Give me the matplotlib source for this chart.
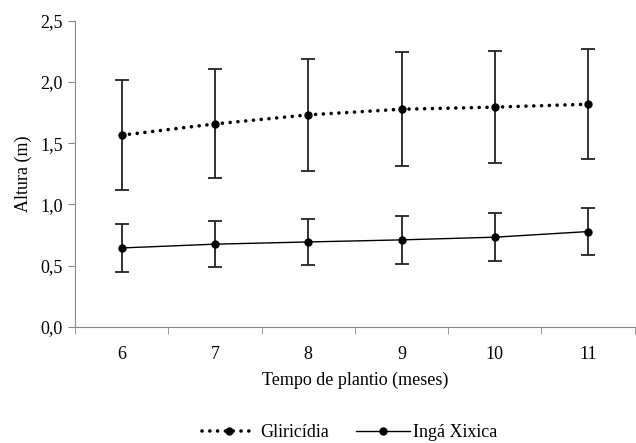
import matplotlib
matplotlib.use('Agg')
import matplotlib.pyplot as plt
from matplotlib.lines import Line2D

plt.rcParams['font.family'] = 'Liberation Serif'
plt.rcParams['font.size'] = 13

# data
meses = [6, 7, 8, 9, 10, 11]
gliricidia = [1.566, 1.658, 1.732, 1.778, 1.795, 1.819]
gliricidia_err = [0.45, 0.445, 0.455, 0.465, 0.457, 0.447]
inga = [0.645, 0.676, 0.694, 0.711, 0.733, 0.779]
inga_err = [0.195, 0.19, 0.19, 0.195, 0.195, 0.193]
yticks = [0.0, 0.5, 1.0, 1.5, 2.0, 2.5]

dotted = (0, (0.01, 2.15))

fig = plt.figure(figsize=(6.36, 4.43), dpi=100)
ax = fig.add_axes([0.118, 0.262, 0.88, 0.691])

ax.errorbar(meses, gliricidia, yerr=gliricidia_err, color='black', marker='o',
            markersize=5, linestyle=dotted, linewidth=2.6,
            dash_capstyle='round', ecolor='#222222', elinewidth=1.3,
            capsize=5, capthick=1.3)
ax.errorbar(meses, inga, yerr=inga_err, color='black', marker='o',
            markersize=5, linestyle='-', linewidth=1.0,
            ecolor='#222222', elinewidth=1.3, capsize=5, capthick=1.3)

ax.set_xlim(5.5, 11.5)
ax.set_ylim(0, 2.5)
ax.set_yticks(yticks)
ax.set_yticklabels([f'{v:.1f}'.replace('.', ',') for v in yticks])
ax.set_xticks(meses)
ax.set_xticks([m + 0.5 for m in [5] + meses], minor=True)
ax.tick_params(axis='x', which='major', length=0, pad=14)
ax.tick_params(axis='x', which='minor', length=5, color='#888888', direction='out')
ax.tick_params(axis='y', length=5, color='#888888', pad=4)

for s in ['top', 'right']:
    ax.spines[s].set_visible(False)
for s in ['left', 'bottom']:
    ax.spines[s].set_color('#888888')

ax.set_ylabel('Altura (m)', labelpad=6)
ax.set_xlabel('Tempo de plantio (meses)', labelpad=6)

handles = [
    Line2D([], [], color='black', marker='o', markersize=5, linestyle=dotted,
           linewidth=2.6, dash_capstyle='round'),
    Line2D([], [], color='black', marker='o', markersize=5, linestyle='-',
           linewidth=1.0),
]
fig.legend(handles, ['Gliricídia', 'Ingá Xixica'], loc='lower center',
           bbox_to_anchor=(0.55, -0.032), ncol=2, frameon=False,
           handlelength=3, columnspacing=1.5, handletextpad=0.2)

fig.savefig('out.png', dpi=100)
